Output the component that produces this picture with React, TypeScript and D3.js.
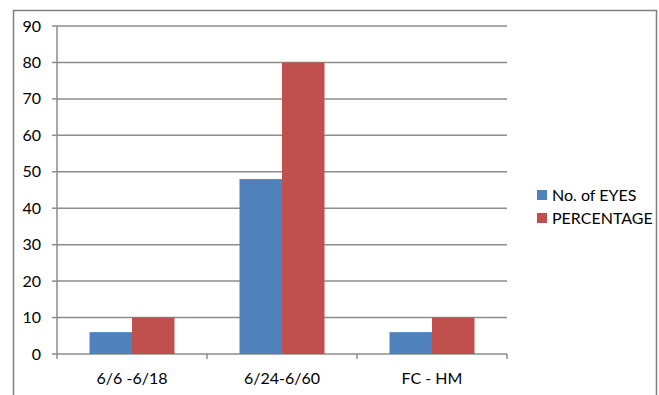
import React from "react";
import * as d3 from "d3";

const categories = ["6/6 -6/18", "6/24-6/60", "FC - HM"];
const seriesNames = ["No. of EYES", "PERCENTAGE"];
const eyes = [6, 48, 6];
const percentage = [10, 80, 10];
const yTicks = [0, 10, 20, 30, 40, 50, 60, 70, 80, 90];
const colors = ["#4F81BD", "#C0504D"];

export default function App() {
  const W = 659, H = 395;
  const left = 57, right = 507, top = 26, bottom = 354;
  const x = d3.scaleBand<string>().domain(categories).range([left, right]).paddingInner(0.4333).paddingOuter(0.2167);
  const x1 = d3.scaleBand<string>().domain(seriesNames).range([0, x.bandwidth()]);
  const y = d3.scaleLinear().domain([0, 90]).range([bottom, top]);
  const series = [eyes, percentage];
  const font = "Lato, 'Open Sans', sans-serif";
  const step = (right - left) / categories.length;
  return (
    <svg width={W} height={H} style={{ position: "absolute", left: 0, top: 0 }}>
      <rect x={0} y={0} width={W} height={H} fill="#fff" />
      <path d={`M13.5,${H + 2}V10.5H656.5V${H + 2}`} fill="none" stroke="#7f7f7f" strokeWidth={1.5} />
      {yTicks.map((t) => (
        <g key={t}>
          <line x1={left} x2={right} y1={y(t)} y2={y(t)} stroke="#8c8c8c" strokeWidth={1.5} />
          <line x1={left - 5} x2={left} y1={y(t)} y2={y(t)} stroke="#8c8c8c" strokeWidth={1.5} />
          <text x={41} y={y(t)} dy="0.35em" textAnchor="end" fontFamily={font} fontSize={16} fill="#000">{t}</text>
        </g>
      ))}
      <line x1={left} x2={left} y1={top} y2={bottom} stroke="#8c8c8c" strokeWidth={1.5} />
      {d3.range(categories.length + 1).map((i) => (
        <line key={i} x1={left + i * step} x2={left + i * step} y1={bottom} y2={bottom + 5} stroke="#8c8c8c" strokeWidth={1.5} />
      ))}
      {categories.map((c, i) => (
        <g key={c}>
          {series.map((s, j) => (
            <rect key={j} x={(x(c) as number) + (x1(seriesNames[j]) as number)} y={y(s[i])} width={x1.bandwidth()} height={bottom - y(s[i])} fill={colors[j]} />
          ))}
          <text x={(x(c) as number) + x.bandwidth() / 2} y={378} dy="0.35em" textAnchor="middle" fontFamily={font} fontSize={16} fill="#000">{c}</text>
        </g>
      ))}
      {seriesNames.map((n, j) => (
        <g key={n}>
          <rect x={537} y={190 + j * 23} width={10} height={10} fill={colors[j]} />
          <text x={552} y={195 + j * 23} dy="0.35em" fontFamily={font} fontSize={16} fill="#000">{n}</text>
        </g>
      ))}
    </svg>
  );
}
